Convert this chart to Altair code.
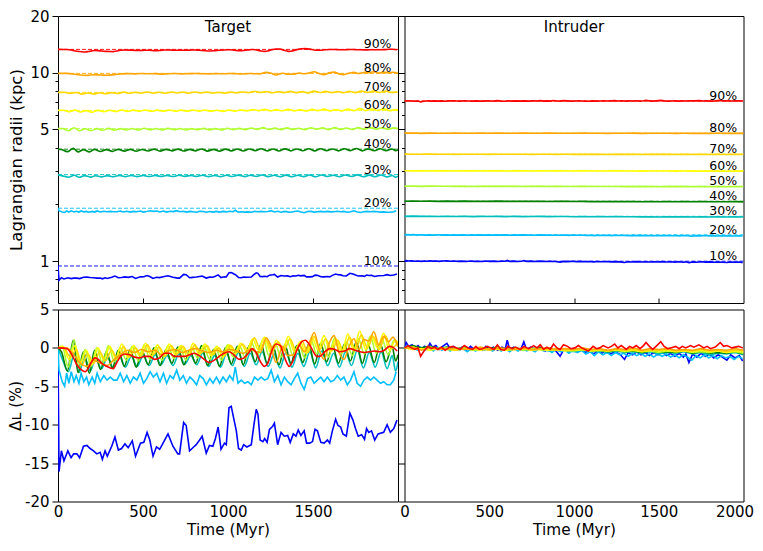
import altair as alt
import pandas as pd

# ---------------- data ----------------
PCTS = ["10%", "20%", "30%", "40%", "50%", "60%", "70%", "80%", "90%"]
COLORS = ["#0000ff", "#00bfff", "#00bfbf", "#008000", "#adff2f",
          "#ffff00", "#ffd700", "#ffa500", "#ff0000"]

# initial Lagrangian radii (kpc)
R0_TARGET = [0.943, 1.91, 2.88, 3.93, 5.05, 6.31, 7.87, 9.92, 13.3]
R0_INTRUDER = [1.00, 1.38, 1.73, 2.08, 2.50, 3.02, 3.70, 4.78, 7.08]

LABEL_TIME = 1880
TIME_GRID = list(range(0, 2001, 50))

# ---- Target: Delta_L (%) vs time (Myr), (t, value) pairs ----
TARGET_10 = [(0, 0), (6, -16.1), (20, -13.4), (35, -14.7), (58, -13.4), (77, -14.3), (92, -13.8), (111, -13.8),
             (127, -14.3), (150, -12.8), (170, -12.7), (189, -13.1), (209, -13.4), (228, -13.8), (248, -13.6),
             (261, -14.5), (277, -13.4), (290, -14.1), (316, -12.8), (335, -11.6), (355, -13.3), (374, -13.1),
             (394, -12.5), (413, -13.0), (437, -12.1), (456, -14.1), (485, -12.4), (505, -12.3), (524, -11.0),
             (540, -12.0), (559, -14.1), (579, -12.9), (598, -13.2), (618, -12.4), (647, -11.2), (676, -12.8),
             (705, -13.8), (715, -13.8), (739, -9.7), (754, -10.1), (774, -13.4), (793, -13.0), (813, -12.6),
             (833, -12.0), (848, -11.5), (872, -13.7), (891, -12.7), (911, -12.8), (926, -11.8), (942, -10.3),
             (959, -13.2), (979, -12.4), (990, -12.6), (1006, -7.8), (1019, -7.6), (1033, -9.1), (1049, -10.8),
             (1062, -13.1), (1078, -13.3), (1092, -12.6), (1111, -12.9), (1137, -12.6), (1152, -10.1),
             (1166, -8.0), (1176, -8.6), (1189, -12.0), (1205, -12.2), (1216, -11.8), (1230, -12.3),
             (1244, -10.6), (1263, -10.2), (1273, -9.8), (1292, -12.6), (1312, -11.0), (1331, -11.5),
             (1351, -11.4), (1366, -12.3), (1384, -11.2), (1400, -11.5), (1413, -10.7), (1429, -11.4),
             (1448, -10.8), (1462, -12.4), (1481, -12.4), (1497, -12.2), (1512, -10.6), (1526, -10.8),
             (1546, -12.3), (1565, -12.4), (1585, -12.0), (1598, -12.4), (1614, -10.8), (1633, -9.3),
             (1647, -10.1), (1663, -10.3), (1676, -11.2), (1696, -11.5), (1717, -8.5), (1735, -9.4),
             (1750, -10.5), (1766, -11.5), (1786, -11.3), (1803, -11.9), (1815, -10.5), (1828, -11.0),
             (1844, -10.8), (1863, -12.0), (1883, -11.2), (1916, -11.0), (1936, -10.0), (1955, -11.0),
             (1975, -10.5), (1994, -9.4)]
TARGET_20 = [(0, 0), (6, -2.9), (25, -4.4), (39, -5.0), (51, -3.3), (64, -4.6), (78, -3.1), (94, -4.4),
             (107, -3.6), (123, -4.6), (136, -3.3), (152, -4.4), (168, -3.8), (181, -4.8), (201, -3.8),
             (216, -4.6), (230, -3.3), (249, -4.4), (269, -3.6), (288, -4.2), (308, -3.8), (327, -4.2),
             (347, -4.2), (366, -3.3), (386, -4.4), (405, -3.6), (425, -4.6), (444, -3.8), (464, -4.2),
             (483, -3.3), (503, -4.6), (522, -4.0), (542, -3.1), (561, -3.8), (581, -3.3), (600, -4.4),
             (620, -3.3), (639, -4.6), (659, -3.6), (678, -4.0), (698, -2.9), (717, -4.2), (737, -3.6),
             (756, -4.6), (776, -3.8), (795, -4.2), (815, -4.8), (834, -3.6), (854, -4.0), (873, -4.8),
             (893, -4.0), (912, -4.6), (932, -3.8), (951, -4.6), (971, -3.8), (990, -4.4), (1010, -3.6),
             (1029, -4.2), (1043, -2.5), (1059, -4.6), (1078, -4.2), (1098, -4.6), (1117, -4.4), (1137, -4.8),
             (1156, -3.8), (1176, -4.2), (1195, -3.8), (1215, -4.2), (1234, -4.0), (1254, -2.9), (1273, -4.4),
             (1293, -3.6), (1312, -4.8), (1332, -3.8), (1351, -4.4), (1371, -4.8), (1390, -4.0), (1410, -3.3),
             (1429, -4.6), (1448, -5.4), (1468, -4.0), (1487, -3.8), (1507, -4.6), (1526, -4.2), (1546, -3.8),
             (1565, -4.4), (1585, -3.8), (1604, -4.4), (1624, -4.2), (1643, -3.6), (1663, -4.2), (1682, -3.8),
             (1702, -4.8), (1721, -4.2), (1741, -3.1), (1760, -4.6), (1780, -5.0), (1799, -4.2), (1819, -3.8),
             (1838, -4.2), (1858, -3.8), (1877, -4.2), (1897, -4.6), (1916, -4.4), (1936, -4.8), (1955, -4.8),
             (1975, -4.2), (1989, -3.1)]
TARGET_30 = [(0, 0), (26, -1.5), (61, -3.1), (96, -0.8), (124, -3.2), (156, -1.2), (191, -3.0), (221, -1.3),
             (256, -2.7), (291, -1.2), (326, -2.6), (361, -1.0), (396, -2.5), (431, -1.1), (466, -2.4),
             (501, -1.0), (536, -2.3), (571, -0.9), (606, -2.2), (641, -1.0), (676, -2.3), (711, -0.8),
             (746, -2.1), (781, -1.0), (816, -2.2), (851, -0.7), (886, -2.4), (921, -1.0), (956, -2.5),
             (991, -0.8), (1026, -2.3), (1061, -0.6), (1096, -2.4), (1131, -0.7), (1166, -2.2), (1201, -0.5),
             (1236, -2.4), (1271, -0.8), (1306, -2.6), (1341, -0.6), (1376, -2.5), (1411, -0.7), (1446, -2.4),
             (1481, -0.5), (1516, -2.6), (1551, -0.4), (1586, -2.3), (1621, -0.7), (1656, -2.5), (1691, -0.5),
             (1726, -2.3), (1761, -0.3), (1796, -2.6), (1831, -0.6), (1866, -2.5), (1901, -0.5), (1936, -2.7),
             (1966, -1.0), (1986, -3.0), (2000, -1.8)]
TARGET_40 = [(0, 0), (20, -0.5), (55, -3.0), (90, 1.0), (118, -3.2), (150, -0.5), (185, -3.3), (215, -0.3),
             (250, -2.8), (285, -0.5), (320, -2.6), (355, -0.3), (390, -2.4), (425, -0.2), (460, -2.5),
             (495, -0.4), (530, -2.2), (565, 0.0), (600, -2.3), (635, -0.2), (670, -2.0), (705, 0.1),
             (740, -2.2), (775, -0.3), (810, -2.0), (845, 0.3), (880, -2.3), (915, -0.2), (950, -2.4),
             (985, 0.0), (1020, -2.1), (1055, 0.2), (1090, -2.2), (1125, 0.3), (1160, -1.8), (1195, 0.5),
             (1230, -2.0), (1265, 0.2), (1300, -2.2), (1335, 0.4), (1370, -2.0), (1405, 0.3), (1440, -1.9),
             (1475, 0.5), (1510, -2.1), (1545, 0.6), (1580, -1.8), (1615, 0.3), (1650, -2.0), (1685, 0.5),
             (1720, -1.7), (1755, 0.8), (1790, -2.0), (1825, 0.4), (1860, -1.9), (1895, 0.6), (1930, -1.8),
             (1965, 0.2), (1986, -1.7), (2000, -0.9)]
TARGET_50 = [(0, 0), (25, 0.2), (60, -2.5), (95, 1.1), (125, -2.6), (160, -0.2), (195, -2.4), (228, 0.0),
             (262, -2.0), (297, 0.3), (332, -1.8), (367, 0.0), (402, -1.6), (437, 0.2), (472, -1.7),
             (507, 0.4), (542, -1.5), (577, 0.1), (612, -1.6), (647, 0.3), (682, -1.4), (717, 0.2),
             (752, -1.6), (787, 0.0), (822, -1.3), (857, 0.3), (892, -1.5), (927, 0.0), (962, -1.6),
             (997, 0.4), (1032, -1.2), (1067, 0.3), (1102, -1.3), (1137, 0.8), (1172, -1.0), (1207, 1.2),
             (1242, -1.1), (1277, 0.6), (1312, -1.2), (1347, 1.0), (1382, -1.0), (1417, 0.5), (1452, -1.3),
             (1487, 1.1), (1522, -0.8), (1557, 0.9), (1592, -1.2), (1627, 1.3), (1662, -0.9), (1697, 0.8),
             (1732, -1.0), (1767, 1.2), (1802, -0.8), (1837, 1.5), (1872, -0.7), (1907, 1.1), (1942, -0.9),
             (1977, 1.0), (2000, 0.2)]
TARGET_60 = [(0, 0), (30, 0.2), (65, -1.5), (100, 0.3), (132, -2.0), (167, -0.3), (200, -2.2), (235, 0.0),
             (270, -1.6), (305, 0.2), (340, -1.4), (375, 0.5), (410, -1.2), (445, 0.3), (480, -1.0),
             (515, 0.6), (550, -1.1), (585, 0.4), (620, -1.0), (655, 0.5), (690, -0.9), (725, 0.3),
             (760, -1.1), (795, 0.6), (830, -0.8), (865, 0.5), (900, -1.0), (935, 0.2), (970, -1.2),
             (1005, 0.4), (1040, -0.8), (1075, 0.6), (1110, -0.5), (1145, 1.2), (1180, -0.3), (1215, 1.4),
             (1250, -0.6), (1285, 1.0), (1320, -0.4), (1355, 1.5), (1390, -0.5), (1425, 0.8), (1460, -0.7),
             (1495, 1.3), (1530, -0.3), (1565, 1.6), (1600, -0.5), (1635, 1.2), (1670, -0.6), (1705, 1.8),
             (1740, -0.4), (1775, 2.2), (1810, -0.2), (1845, 1.6), (1880, 0.0), (1915, 1.9), (1950, -0.3),
             (1985, 1.0), (2000, 0.6)]
TARGET_70 = [(0, 0), (35, 0.0), (72, -1.2), (108, -0.2), (140, -2.2), (175, -0.8), (210, -2.0), (245, -0.5),
             (280, -1.7), (315, -0.3), (350, -1.5), (385, 0.2), (420, -1.2), (455, 0.0), (490, -1.0),
             (525, 0.4), (560, -0.9), (595, 0.1), (630, -1.1), (665, 0.3), (700, -0.8), (735, 0.2),
             (770, -1.0), (805, 0.4), (840, -0.7), (875, 0.3), (910, -0.9), (945, 0.0), (980, -1.0),
             (1015, 0.3), (1050, -0.6), (1085, 0.5), (1120, -0.4), (1155, 1.3), (1190, -0.2), (1225, 1.0),
             (1260, -0.5), (1295, 0.8), (1330, -0.3), (1365, 1.2), (1400, -0.4), (1435, 0.9), (1470, -0.6),
             (1505, 1.5), (1540, -0.2), (1575, 1.2), (1610, -0.4), (1645, 1.0), (1680, -0.5), (1715, 1.4),
             (1750, -0.3), (1785, 1.7), (1820, 0.0), (1855, 1.5), (1890, -0.2), (1925, 1.6), (1960, -0.1),
             (1995, 0.6)]
TARGET_80 = [(0, 0), (50, 0.0), (90, -0.8), (130, -2.0), (170, -2.4), (210, -1.6), (250, -2.0), (290, -2.3),
             (330, -1.5), (370, -0.8), (410, -0.3), (450, -0.6), (490, -0.2), (530, -0.5), (570, -0.3),
             (610, -0.9), (650, -0.4), (690, -0.2), (730, -0.6), (770, -0.3), (810, -0.1), (850, -0.4),
             (890, -0.6), (930, -0.3), (970, -0.5), (1010, -0.2), (1050, -0.4), (1090, -0.7), (1130, -0.2),
             (1165, -0.5), (1190, -0.6), (1224, 1.3), (1250, 0.4), (1283, -1.9), (1322, 0.2), (1351, -1.0),
             (1390, -0.9), (1419, 0.4), (1448, -0.5), (1478, 0.6), (1507, 2.0), (1536, -0.2), (1565, -1.5),
             (1595, 0.6), (1624, 1.6), (1653, -0.6), (1682, -1.5), (1712, 0.2), (1741, 1.2), (1770, -0.2),
             (1799, 1.1), (1829, 0.9), (1858, 2.1), (1887, 0.4), (1916, 1.5), (1945, 0.8), (1970, 1.4),
             (2000, 0.2)]
TARGET_90 = [(0, 0), (53, -0.1), (82, -0.9), (111, -2.2), (140, -2.9), (160, -3.1), (179, -2.6), (198, -1.8),
             (218, -1.3), (237, -1.5), (257, -2.0), (286, -2.4), (306, -2.6), (325, -2.7), (344, -2.0),
             (368, -1.1), (393, -0.8), (422, -0.9), (451, -1.2), (481, -1.3), (510, -1.1), (539, -1.1),
             (568, -1.5), (597, -1.3), (627, -0.7), (656, -0.7), (685, -1.1), (714, -1.1), (743, -1.1),
             (773, -0.9), (802, -0.7), (831, -1.0), (860, -1.5), (889, -1.9), (919, -1.6), (948, -1.1),
             (977, -0.7), (1006, -0.5), (1035, -0.9), (1064, -1.5), (1094, -1.3), (1123, -0.6), (1142, -0.1),
             (1162, -0.5), (1191, -1.8), (1214, -2.4), (1234, -2.0), (1259, -0.3), (1282, 0.5), (1308, 0.3),
             (1327, -0.9), (1347, -2.0), (1360, -2.4), (1380, -1.8), (1405, -0.3), (1434, 0.8), (1454, 1.0),
             (1483, 0.3), (1502, -0.5), (1522, -1.1), (1541, -1.1), (1570, -0.5), (1600, -0.1), (1629, -0.2),
             (1658, -0.5), (1687, -0.4), (1716, -0.1), (1746, -0.3), (1775, -0.5), (1804, -0.6), (1833, -0.5),
             (1862, -0.4), (1891, -0.5), (1920, -0.3), (1950, 0.2), (1969, 0.1), (1995, -0.4)]

# ---- Intruder: Delta_L (%) vs time (Myr) ----
INTRUDER_10 = [(0, 0), (10, 0.7), (25, 0.2), (45, 0.4), (60, -0.1), (80, 0.3), (100, -0.2), (118, 0.2),
               (135, -0.1), (150, 0.6), (165, 0.1), (185, 0.3), (205, -0.2), (225, 0.2), (250, 0.6),
               (270, -0.1), (290, 0.2), (315, -0.2), (340, 0.1), (365, -0.3), (390, 0.2), (410, -0.2),
               (430, 0.0), (460, -0.3), (480, 0.2), (500, -0.2), (525, 0.1), (550, -0.3), (575, 0.1),
               (595, -0.1), (606, 1.0), (620, -0.2), (645, 0.1), (670, -0.3), (690, 0.0), (704, 0.8),
               (720, -0.2), (745, 0.1), (770, -0.3), (800, 0.1), (830, -0.4), (860, 0.0), (890, -0.3),
               (918, -1.1), (940, -0.2), (965, -0.5), (990, -0.1), (1015, -0.5), (1040, -0.2), (1065, -0.6),
               (1090, -0.3), (1115, -0.8), (1140, -0.4), (1165, -0.7), (1190, -0.3), (1215, -0.8),
               (1240, -0.5), (1270, -0.8), (1298, -1.5), (1320, -0.6), (1345, -0.9), (1370, -0.5),
               (1395, -0.9), (1420, -0.6), (1445, -1.0), (1470, -0.6), (1495, -0.9), (1520, -0.5),
               (1545, -1.0), (1570, -0.7), (1595, -1.1), (1620, -0.7), (1645, -1.2), (1660, -0.8),
               (1678, -1.9), (1700, -0.8), (1725, -1.2), (1750, -0.7), (1775, -1.1), (1800, -0.8),
               (1825, -1.3), (1850, -0.9), (1875, -1.2), (1902, -1.6), (1925, -0.9), (1950, -1.3),
               (1975, -1.0), (1995, -1.7)]
INTRUDER_20 = [(0, 0), (15, 0.3), (35, -0.1), (55, 0.2), (75, -0.3), (95, 0.1), (120, -0.3), (145, 0.0),
               (170, -0.4), (195, 0.1), (220, -0.3), (245, 0.0), (270, -0.4), (295, 0.0), (320, -0.3),
               (345, -0.1), (370, -0.5), (395, -0.1), (420, -0.4), (445, 0.0), (470, -0.3), (495, -0.1),
               (520, -0.4), (545, 0.0), (570, -0.4), (595, -0.1), (620, -0.5), (645, -0.1), (670, -0.4),
               (695, 0.0), (720, -0.4), (745, -0.2), (770, -0.5), (795, -0.1), (820, -0.4), (845, -0.2),
               (870, -0.6), (895, -0.2), (920, -0.5), (945, -0.3), (970, -0.7), (995, -0.3), (1020, -0.6),
               (1045, -0.3), (1070, -0.8), (1095, -0.5), (1120, -1.0), (1145, -0.5), (1170, -0.9),
               (1195, -0.6), (1220, -1.0), (1245, -0.6), (1270, -0.9), (1295, -0.7), (1320, -1.1),
               (1345, -0.7), (1370, -1.0), (1395, -0.7), (1420, -1.1), (1445, -0.8), (1470, -1.2),
               (1495, -0.8), (1520, -1.1), (1545, -0.8), (1570, -1.2), (1595, -0.9), (1620, -1.3),
               (1645, -0.9), (1670, -1.2), (1695, -1.6), (1720, -1.0), (1745, -1.3), (1770, -0.9),
               (1795, -1.3), (1820, -1.0), (1845, -1.4), (1870, -1.0), (1895, -1.3), (1920, -1.1),
               (1945, -1.5), (1970, -1.1), (1995, -1.4)]
# values every 50 Myr (TIME_GRID)
INTRUDER_30 = [0, 0.2, -0.1, 0.1, -0.2, 0.0, -0.2, 0.1, -0.3, -0.1, -0.2, 0.0, -0.3, -0.1, -0.3, -0.2, -0.1,
               -0.4, -0.2, -0.3, -0.5, -0.3, -0.5, -0.4, -0.6, -0.4, -0.6, -0.5, -0.7, -0.5, -0.8, -0.6, -0.7,
               -0.5, -0.8, -0.6, -0.9, -0.7, -0.8, -0.6, -0.9]
INTRUDER_40 = [0, 0.3, 0.0, 0.2, -0.1, 0.1, -0.2, 0.1, -0.2, 0.0, -0.1, 0.1, -0.2, 0.0, -0.2, -0.1, 0.0,
               -0.3, -0.1, -0.2, -0.3, -0.2, -0.4, -0.3, -0.5, -0.3, -0.5, -0.4, -0.6, -0.4, -0.6, -0.5, -0.6,
               -0.4, -0.7, -0.5, -0.7, -0.6, -0.7, -0.5, -0.8]
INTRUDER_50 = [0, 0.1, -0.2, 0.1, -0.1, 0.0, -0.2, 0.0, -0.3, -0.1, -0.2, 0.0, -0.2, -0.1, -0.3, -0.1, -0.2,
               -0.3, -0.1, -0.3, -0.4, -0.2, -0.4, -0.3, -0.4, -0.3, -0.5, -0.3, -0.5, -0.4, -0.6, -0.4, -0.5,
               -0.4, -0.6, -0.5, -0.6, -0.4, -0.6, -0.5, -0.7]
INTRUDER_60 = [0, -0.2, -0.1, -0.3, -0.1, -0.2, -0.3, -0.1, -0.2, -0.3, -0.1, -0.2, -0.3, -0.2, -0.1, -0.3,
               -0.2, -0.3, -0.2, -0.4, -0.3, -0.2, -0.4, -0.3, -0.4, -0.2, -0.4, -0.3, -0.5, -0.3, -0.4, -0.3,
               -0.5, -0.4, -0.5, -0.3, -0.5, -0.4, -0.6, -0.4, -0.5]
INTRUDER_70 = [0, -0.1, -0.2, 0.0, -0.2, -0.1, -0.3, -0.1, -0.2, -0.1, -0.3, -0.1, -0.2, -0.2, -0.1, -0.3,
               -0.1, -0.2, -0.3, -0.2, -0.3, -0.1, -0.3, -0.2, -0.4, -0.2, -0.3, -0.2, -0.4, -0.3, -0.3, -0.2,
               -0.4, -0.3, -0.4, -0.2, -0.4, -0.3, -0.5, -0.3, -0.4]
INTRUDER_80 = [0, 0.1, -0.3, 0.0, -0.1, -0.2, 0.0, -0.2, -0.1, 0.1, -0.2, 0.0, -0.1, -0.2, 0.0, -0.2, -0.1,
               0.0, -0.2, -0.1, -0.2, 0.0, -0.2, -0.1, -0.3, -0.1, -0.2, 0.0, -0.3, -0.1, -0.2, -0.1, -0.3,
               -0.2, -0.3, -0.1, -0.3, -0.2, -0.3, -0.1, -0.3]
INTRUDER_90 = [(0, 0), (21, 0.3), (41, 0), (60, -0.2), (80, 0), (95, -1.1), (115, -0.4), (138, 0.2),
               (158, -0.1), (177, 0.1), (197, -0.2), (216, 0.1), (240, -0.3), (265, 0.1), (285, 0.2),
               (307, 0), (329, -0.2), (353, 0.3), (376, 0), (402, -0.2), (421, 0.2), (440, -0.2), (460, -0.1),
               (489, 0.2), (509, 0), (529, -0.2), (548, 0.4), (568, -0.2), (590, -0.3), (610, 0.2),
               (636, -0.1), (655, 0.1), (684, -0.2), (704, 0.2), (733, -0.1), (762, 0.3), (782, 0), (801, 0.4),
               (821, -0.2), (840, 0.1), (860, -0.2), (879, 0.5), (899, 0), (918, -0.2), (938, 0.4), (962, 0.2),
               (981, -0.1), (1006, 0), (1026, 0.3), (1045, 0), (1065, -0.2), (1084, -0.4), (1113, 0.2),
               (1133, -0.1), (1152, 0), (1172, 0.3), (1201, 0), (1220, 0.2), (1240, 0.5), (1259, 0),
               (1279, 0.3), (1308, -0.2), (1328, 0.2), (1347, 0), (1367, 0.3), (1390, -0.1), (1410, 0.3),
               (1425, 0.7), (1445, 0.2), (1464, -0.2), (1484, 0.2), (1512, 0.8), (1532, 0.2), (1552, -0.1),
               (1571, 0), (1600, 0.2), (1620, -0.1), (1639, 0.2), (1659, 0), (1688, 0.3), (1707, 0.1),
               (1737, 0.4), (1766, 0), (1785, 0.2), (1805, -0.1), (1834, 0.1), (1863, 0.7), (1883, 0.2),
               (1902, 0.3), (1932, 0), (1951, 0.1), (1971, 0.2), (1996, 0)]

TARGET = [TARGET_10, TARGET_20, TARGET_30, TARGET_40, TARGET_50, TARGET_60, TARGET_70, TARGET_80, TARGET_90]
INTRUDER = [INTRUDER_10, INTRUDER_20,
            list(zip(TIME_GRID, INTRUDER_30)), list(zip(TIME_GRID, INTRUDER_40)),
            list(zip(TIME_GRID, INTRUDER_50)), list(zip(TIME_GRID, INTRUDER_60)),
            list(zip(TIME_GRID, INTRUDER_70)), list(zip(TIME_GRID, INTRUDER_80)),
            INTRUDER_90]


def build(series, r0s, smooth):
    rows = []
    for i, (p, s) in enumerate(zip(PCTS, series)):
        for t, d in s:
            rows.append({"pct": p, "idx": i, "t": t, "d": d,
                         "r": r0s[i] * (1 + d / 100.0), "smooth": p in smooth})
    return pd.DataFrame(rows)


SMOOTH_T = {"30%", "40%", "50%", "60%", "70%", "80%", "90%"}
df_t = build(TARGET, R0_TARGET, SMOOTH_T)
df_i = build(INTRUDER, R0_INTRUDER, set())
lab_t = pd.DataFrame({"pct": PCTS, "r0": R0_TARGET})
lab_i = pd.DataFrame({"pct": PCTS, "r0": R0_INTRUDER})

# ---------------- scales & axes ----------------
XS = alt.Scale(domain=[0, 2000], nice=False, zero=False)
YLOG = alt.Scale(type="log", domain=[0.6, 20], nice=False)
YLIN = alt.Scale(domain=[-20, 5], nice=False, zero=False)
CS = alt.Scale(domain=PCTS, range=COLORS)
COL = alt.Color("pct:N", scale=CS, legend=None)

MAJ_TEST = "indexof([1,5,10,20], datum.value) >= 0"
LOG_VALUES = [0.7, 0.8, 0.9, 1, 2, 3, 4, 5, 6, 7, 8, 9, 10, 20]
LOG_TICK = {"condition": {"test": MAJ_TEST, "value": 6}, "value": 3}
LIN_VALUES = [-20, -15, -10, -5, 0, 5]
PLAIN = "datum.value + ''"

y_tl = alt.Axis(values=LOG_VALUES, labelExpr=MAJ_TEST + " ? datum.value + '' : ''",
                tickSize=LOG_TICK, title="Lagrangian radii (kpc)", titleFontSize=16.5,
                titlePadding=5, labelPadding=3, labelOverlap=False, labelFlush=False,
                domain=False, grid=False)
y_tr = alt.Axis(values=LOG_VALUES, labels=False, tickSize=LOG_TICK, title=None,
                domain=False, grid=False)
y_bl = alt.Axis(values=LIN_VALUES, labelExpr=PLAIN, tickSize=6,
                title="Δʟ (%)", titleFontSize=15.5, titlePadding=1, labelPadding=3,
                labelOverlap=False, labelFlush=False, domain=False, grid=False)
y_br = alt.Axis(values=LIN_VALUES, labels=False, tickSize=6, title=None, domain=False, grid=False)

x_top = alt.Axis(values=[500, 1000, 1500], labels=False, tickSize=5, offset=-5,
                 domain=False, grid=False, title=None)
x_bl = alt.Axis(values=[0, 500, 1000, 1500], labelExpr=PLAIN, ticks=False, tickSize=0, labelPadding=3,
                title="Time (Myr)", titleFontSize=15.3, titlePadding=3, labelFlush=False,
                labelOverlap=False, domain=False, grid=False)
x_br = alt.Axis(values=[0, 500, 1000, 1500, 2000], labelExpr=PLAIN, ticks=False, tickSize=0,
                labelPadding=3, title="Time (Myr)", titleFontSize=15.3, titlePadding=3,
                labelFlush=False, labelOverlap=False, domain=False, grid=False,
                labelOffset={"condition": {"test": "datum.value == 2000", "value": -9}, "value": 0})

W_L, W_R, H_T, H_B = 340, 339, 287, 192


def line_layers(df, xaxis, yfield, yscale, yaxis):
    layers = []
    jag = df[~df["smooth"]]
    smo = df[df["smooth"]]
    enc = dict(x=alt.X("t:Q", scale=XS, axis=xaxis),
               y=alt.Y(yfield, scale=yscale, axis=yaxis),
               color=COL)
    if len(jag):
        layers.append(alt.Chart(jag).mark_line(strokeWidth=1.6, clip=True).encode(**enc))
    if len(smo):
        layers.append(alt.Chart(smo).mark_line(strokeWidth=1.6, clip=True,
                                               interpolate="monotone").encode(**enc))
    return layers


def top_panel(df, lab, title, yaxis, width):
    rules = alt.Chart(lab).mark_rule(strokeDash=[4, 2], strokeWidth=0.9, opacity=1).encode(
        y=alt.Y("r0:Q", scale=YLOG, axis=yaxis), color=COL)
    lines = line_layers(df, x_top, "r:Q", YLOG, yaxis)
    labels = alt.Chart(lab).mark_text(fontSize=12.5, baseline="alphabetic", align="center",
                                      dy=-1, color="black").encode(
        x=alt.datum(LABEL_TIME), y=alt.Y("r0:Q", scale=YLOG, axis=yaxis), text="pct:N")
    ttl = alt.Chart(pd.DataFrame({"name": [title]})).mark_text(
        fontSize=15, baseline="middle", align="center", color="black").encode(
        x=alt.value(width / 2), y=alt.value(11), text="name:N")
    return alt.layer(rules, *lines, labels, ttl).properties(width=width, height=H_T)


def bottom_panel(df, xaxis, yaxis, width):
    return alt.layer(*line_layers(df, xaxis, "d:Q", YLIN, yaxis)).properties(width=width, height=H_B)


TL = top_panel(df_t, lab_t, "Target", y_tl, W_L)
TR = top_panel(df_i, lab_i, "Intruder", y_tr, W_R)
BL = bottom_panel(df_t, x_bl, y_bl, W_L)
BR = bottom_panel(df_i, x_br, y_br, W_R)

chart = alt.concat(TL, TR, BL, BR, columns=2, spacing={"row": -2.5, "column": -1.5},
                   align="each", bounds="full").properties(
    padding={"left": 0, "top": 0, "right": 0, "bottom": 0}
).configure(font="DejaVu Sans").configure_view(
    stroke="black", strokeWidth=1
).configure_axis(
    labelColor="black", tickColor="black", titleColor="black", titleFontWeight="normal",
    labelFontSize=15, tickWidth=1
)

chart.save("out.html", embed_options={"renderer": "svg", "actions": False})
